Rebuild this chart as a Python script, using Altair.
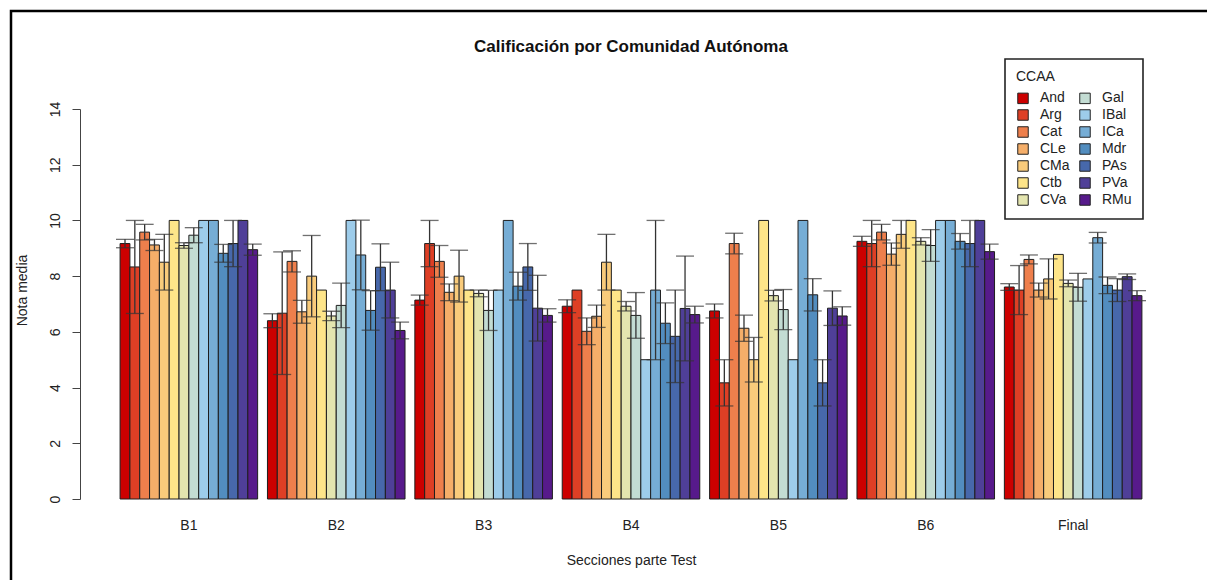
import altair as alt
import pandas as pd

sections = ["B1", "B2", "B3", "B4", "B5", "B6", "Final"]
ccaa = ["And", "Arg", "Cat", "CLe", "CMa", "Ctb", "CVa",
        "Gal", "IBal", "ICa", "Mdr", "PAs", "PVa", "RMu"]
colors = ["#CC0000", "#DE3F25", "#EE7F4C", "#F5AE69", "#F9CB7B", "#FEE589", "#E4E5AF",
          "#C3DCD3", "#9DCCEA", "#76ADD5", "#528DBF", "#4768AB", "#4F3F98", "#571A8B"]

mean_B1 = [9.17, 8.33, 9.58, 9.12, 8.50, 10.0, 9.10, 9.47, 10.0, 10.0, 8.82, 9.17, 10.0, 8.95]
err_B1 = [0.15, 1.67, 0.28, 0.20, 1.00, 0.0, 0.10, 0.27, 0.0, 0.0, 0.32, 0.83, 0.0, 0.20]
mean_B2 = [6.40, 6.67, 8.53, 6.72, 8.00, 7.50, 6.57, 6.95, 10.0, 8.76, 6.77, 8.32, 7.50, 6.05]
err_B2 = [0.25, 2.20, 0.38, 0.41, 1.46, 0.0, 0.17, 0.80, 0.0, 1.25, 0.71, 0.84, 1.00, 0.30]
mean_B3 = [7.14, 9.17, 8.53, 7.42, 8.00, 7.50, 7.38, 6.77, 7.50, 10.0, 7.64, 8.33, 6.85, 6.59]
err_B3 = [0.18, 0.83, 0.57, 0.30, 0.93, 0.0, 0.12, 0.72, 0.0, 0.0, 0.50, 0.84, 1.18, 0.24]
mean_B4 = [6.92, 7.50, 6.02, 6.56, 8.50, 7.50, 6.92, 6.59, 5.00, 7.50, 6.31, 5.84, 6.84, 6.62]
err_B4 = [0.23, 0.0, 0.48, 0.40, 1.00, 0.0, 0.17, 0.82, 0.0, 2.50, 0.73, 1.66, 1.88, 0.30]
mean_B5 = [6.75, 4.17, 9.17, 6.13, 5.00, 10.0, 7.30, 6.80, 5.00, 10.0, 7.33, 4.17, 6.85, 6.57]
err_B5 = [0.25, 0.83, 0.37, 0.47, 0.80, 0.0, 0.19, 0.72, 0.0, 0.0, 0.58, 0.83, 0.62, 0.33]
mean_B6 = [9.25, 9.17, 9.58, 8.79, 9.50, 10.0, 9.25, 9.10, 10.0, 10.0, 9.25, 9.17, 10.0, 8.88]
err_B6 = [0.18, 0.83, 0.28, 0.40, 0.50, 0.0, 0.13, 0.57, 0.0, 0.0, 0.28, 0.83, 0.0, 0.27]
mean_Final = [7.61, 7.50, 8.60, 7.50, 7.90, 8.78, 7.74, 7.60, 7.90, 9.38, 7.67, 7.50, 7.98, 7.30]
err_Final = [0.12, 0.88, 0.16, 0.25, 0.72, 0.0, 0.12, 0.50, 0.0, 0.19, 0.30, 0.41, 0.10, 0.18]

means = [mean_B1, mean_B2, mean_B3, mean_B4, mean_B5, mean_B6, mean_Final]
errs = [err_B1, err_B2, err_B3, err_B4, err_B5, err_B6, err_Final]

rows = []
for s, m_list, e_list in zip(sections, means, errs):
    for c, m, e in zip(ccaa, m_list, e_list):
        rows.append({"seccion": s, "ccaa": c, "media": m, "err": e,
                     "lo": m - e, "hi": m + e})
df = pd.DataFrame(rows)

FONT = "Liberation Sans"
TITLE = "Calificación por Comunidad Autónoma"

x_enc = alt.X("seccion:N", sort=sections,
              scale=alt.Scale(paddingInner=1 / 15, paddingOuter=0.272),
              axis=alt.Axis(title="Secciones parte Test", labelAngle=0, domain=False,
                            ticks=False, tickSize=0, labelPadding=26,
                            labelBaseline="middle", labelFontSize=14, labelFont=FONT,
                            labelColor="#222", titleFontSize=14, titleFont=FONT,
                            titleFontWeight="normal", titleColor="#222",
                            titleBaseline="middle", titleY=61))
xo_enc = alt.XOffset("ccaa:N", sort=ccaa,
                     scale=alt.Scale(paddingInner=0, paddingOuter=0))
y_scale = alt.Scale(domain=[0, 14], nice=False, zero=True)

bars = alt.Chart(df).mark_bar(stroke="#1e1e1e", strokeWidth=1).encode(
    x=x_enc,
    xOffset=xo_enc,
    y=alt.Y("media:Q", scale=y_scale,
            axis=alt.Axis(values=list(range(0, 15, 2)), title="Nota media",
                          labelAngle=270, labelAlign="center", labelBaseline="middle",
                          tickSize=8, labelPadding=17, grid=False,
                          domainColor="#444", tickColor="#444", labelColor="#222",
                          labelFontSize=14, labelFont=FONT,
                          titleFontSize=14, titleFont=FONT, titleFontWeight="normal",
                          titleColor="#222", titleAngle=270, titleAlign="center",
                          titleBaseline="middle", titleX=-58, titleY=181)),
    color=alt.Color("ccaa:N",
                    scale=alt.Scale(domain=ccaa, range=colors),
                    legend=alt.Legend(title="CCAA", orient="none", legendX=925, legendY=-50,
                                      columns=2, columnPadding=7, rowPadding=1,
                                      symbolType="square", symbolSize=110,
                                      symbolStrokeColor="#222", symbolStrokeWidth=1,
                                      symbolOpacity=1,
                                      labelFontSize=14, labelFont=FONT, labelColor="#222",
                                      labelOffset=10,
                                      titleFontSize=14, titleFont=FONT,
                                      titleFontWeight="normal", titleColor="#222",
                                      titlePadding=7, padding=11,
                                      strokeColor="#222",
                                      fillColor="white")),
)

err_df = df[df["err"] > 0]
rules = alt.Chart(err_df).mark_rule(color="#333", strokeWidth=1.3).encode(
    x=alt.X("seccion:N", sort=sections),
    xOffset=alt.XOffset("ccaa:N", sort=ccaa),
    y=alt.Y("lo:Q", scale=y_scale),
    y2="hi:Q",
)
cap_lo = alt.Chart(err_df).mark_tick(color="#333", thickness=1.3, size=18).encode(
    x=alt.X("seccion:N", sort=sections),
    xOffset=alt.XOffset("ccaa:N", sort=ccaa),
    y=alt.Y("lo:Q", scale=y_scale),
)
cap_hi = alt.Chart(err_df).mark_tick(color="#333", thickness=1.3, size=18).encode(
    x=alt.X("seccion:N", sort=sections),
    xOffset=alt.XOffset("ccaa:N", sort=ccaa),
    y=alt.Y("hi:Q", scale=y_scale),
)

frame = alt.Chart(alt.Data(values=[{"k": 1}])).mark_rect(
    fillOpacity=0, stroke="#000", strokeWidth=2.5).encode(
    x=alt.value(-69), x2=alt.value(1160), y=alt.value(-98), y2=alt.value(120 + 390))

title = alt.Chart(alt.Data(values=[{"t": TITLE}])).mark_text(
    font=FONT, fontSize=17, fontWeight="bold", color="#111",
    align="center", baseline="middle").encode(
    text="t:N", x=alt.value(551), y=alt.value(-62))

chart = alt.layer(frame, bars, rules, cap_lo, cap_hi, title).resolve_scale(
    x="shared", y="shared"
).properties(
    width=1102, height=390,
    view=alt.ViewBackground(stroke="transparent", strokeWidth=0),
    padding={"left": 80, "top": 109, "right": 25, "bottom": 81},
    autosize=alt.AutoSizeParams(type="none"),
).configure(
    background="white",
    view=alt.ViewConfig(stroke="transparent", strokeWidth=0),
    style={"cell": {"stroke": "transparent", "strokeWidth": 0}},
).configure_legend(strokeWidth=1.6)

chart.save("out.html", embed_options={"renderer": "svg", "actions": False})
